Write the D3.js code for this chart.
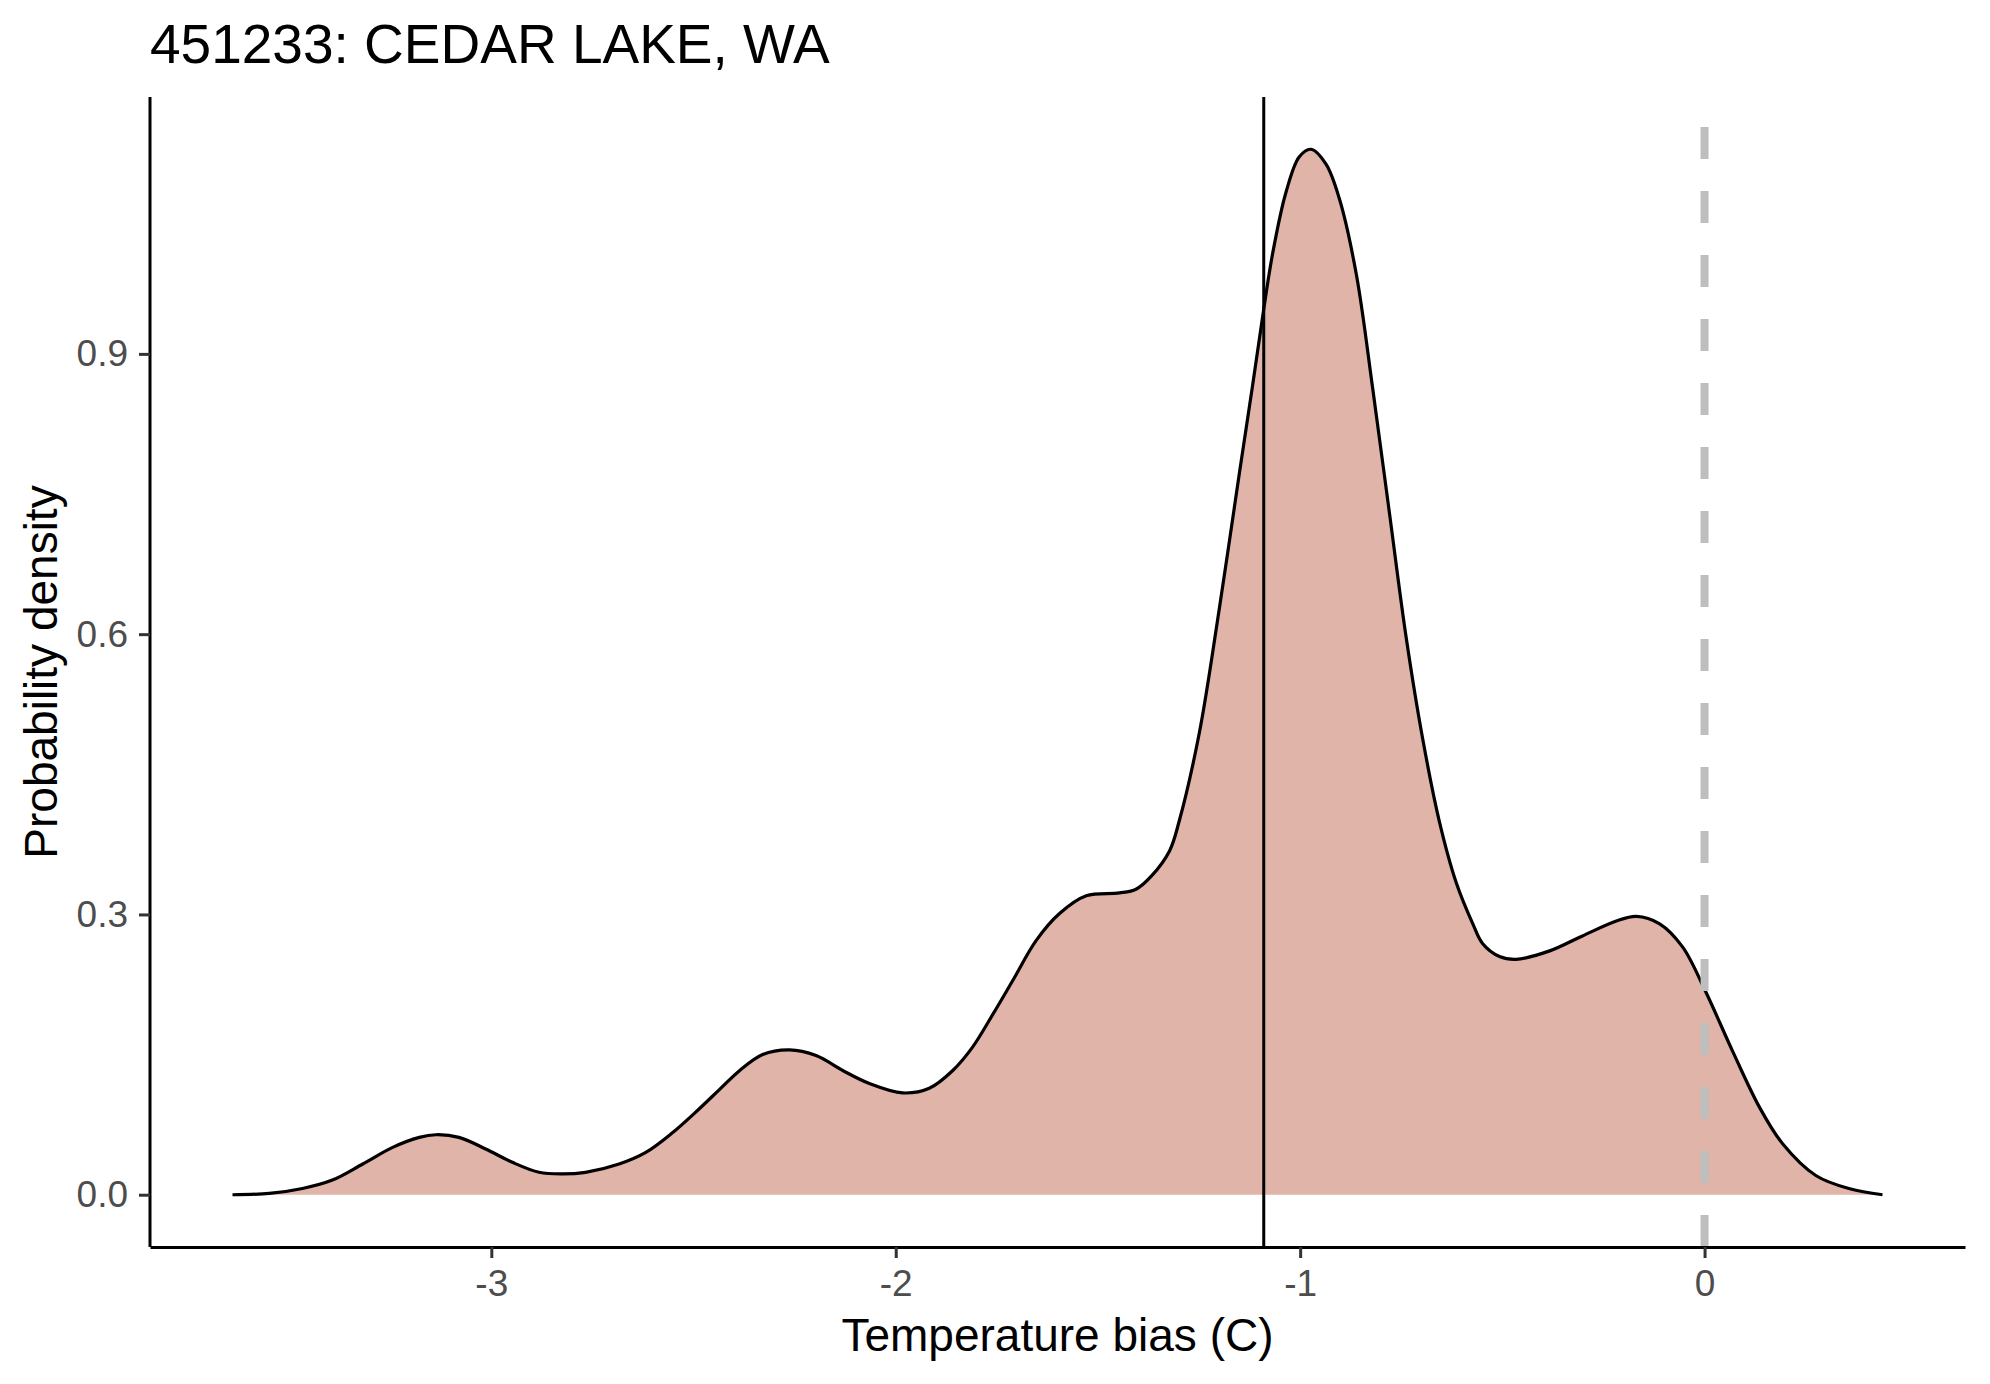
<!DOCTYPE html>
<html>
<head>
<meta charset="utf-8">
<script src="https://cdn.jsdelivr.net/npm/d3@7"></script>
<style>
html, body { margin: 0; padding: 0; background: #ffffff; }
svg { display: block; font-family: "Liberation Sans", Arial, sans-serif; }
</style>
</head>
<body>
<svg id="chart" width="1990" height="1384"></svg>
<script>
// ---- Data ----
const titleText = "451233: CEDAR LAKE, WA";
const xLabel = "Temperature bias (C)";
const yLabel = "Probability density";

const biasX = [
  -3.640, -3.549, -3.467, -3.393, -3.318, -3.244, -3.178, -3.137, -3.080, -3.014,
  -2.948, -2.882, -2.824, -2.767, -2.684, -2.618, -2.553, -2.487, -2.436, -2.387,
  -2.329, -2.263, -2.197, -2.131, -2.065, -1.983, -1.917, -1.859, -1.810, -1.760,
  -1.711, -1.653, -1.595, -1.529, -1.447, -1.406, -1.368, -1.323, -1.299, -1.249,
  -1.200, -1.150, -1.117, -1.091, -1.068, -1.035, -1.002, -0.973, -0.936, -0.903,
  -0.861, -0.820, -0.779, -0.738, -0.697, -0.656, -0.614, -0.573, -0.549, -0.507,
  -0.466, -0.383, -0.302, -0.218, -0.169, -0.111, -0.054, 0.002, 0.069, 0.136,
  0.193, 0.276, 0.359, 0.440
];
const densityY = [
  0.000, 0.0014, 0.0067, 0.0157, 0.0329, 0.0507, 0.0614, 0.0642, 0.0614, 0.0490,
  0.0347, 0.0240, 0.0223, 0.0240, 0.0329, 0.0453, 0.0660, 0.0915, 0.1125, 0.1325,
  0.150, 0.155, 0.149, 0.133, 0.119, 0.109, 0.114, 0.133, 0.158, 0.193,
  0.229, 0.272, 0.301, 0.320, 0.323, 0.327, 0.341, 0.368, 0.400, 0.495,
  0.627, 0.773, 0.868, 0.945, 1.0075, 1.073, 1.111, 1.119, 1.103, 1.066,
  0.985, 0.861, 0.729, 0.597, 0.488, 0.400, 0.334, 0.290, 0.269, 0.255,
  0.252, 0.261, 0.277, 0.293, 0.298, 0.290, 0.265, 0.218, 0.154, 0.0935,
  0.0546, 0.0203, 0.0064, 0.000
];
const meanBias = -1.09;
const zeroBias = 0;
const xTicks = [-3, -2, -1, 0];
const yTicks = [0.0, 0.3, 0.6, 0.9];

// ---- Layout ----
const panel = { left: 150, right: 1965, top: 97, bottom: 1247 };
const fillColor = "#E0B4A9";

const points = biasX.map((x, i) => ({ x: x, y: densityY[i] }));

const xExt = d3.extent(biasX);
const xPad = (xExt[1] - xExt[0]) * 0.05;
const yMax = d3.max(densityY);
const yPad = yMax * 0.05;

const x = d3.scaleLinear()
  .domain([xExt[0] - xPad, xExt[1] + xPad])
  .range([panel.left, panel.right]);
const y = d3.scaleLinear()
  .domain([0 - yPad, yMax + yPad])
  .range([panel.bottom, panel.top]);

const svg = d3.select("#chart");
svg.append("rect").attr("width", 1990).attr("height", 1384).attr("fill", "#ffffff");

// density area
const curve = d3.curveCatmullRom.alpha(0.5);
svg.append("path")
  .datum(points)
  .attr("fill", fillColor)
  .attr("d", d3.area().x(d => x(d.x)).y0(y(0)).y1(d => y(d.y)).curve(curve));

svg.append("path")
  .datum(points)
  .attr("fill", "none")
  .attr("stroke", "#000000")
  .attr("stroke-width", 3.2)
  .attr("stroke-linejoin", "round")
  .attr("d", d3.line().x(d => x(d.x)).y(d => y(d.y)).curve(curve));

// mean line
svg.append("line")
  .attr("x1", x(meanBias)).attr("x2", x(meanBias))
  .attr("y1", panel.bottom).attr("y2", panel.top)
  .attr("stroke", "#000000").attr("stroke-width", 3);

// zero reference (dashed)
svg.append("line")
  .attr("x1", x(zeroBias)).attr("x2", x(zeroBias))
  .attr("y1", panel.bottom).attr("y2", panel.top)
  .attr("stroke", "#BEBEBE").attr("stroke-width", 8)
  .attr("stroke-dasharray", "32,32");

// axes
const xAxis = d3.axisBottom(x).tickValues(xTicks).tickFormat(d => String(d))
  .tickSizeInner(11).tickSizeOuter(0).tickPadding(12);
const yAxis = d3.axisLeft(y).tickValues(yTicks).tickFormat(d => d.toFixed(1))
  .tickSizeInner(11).tickSizeOuter(0).tickPadding(11);

const gx = svg.append("g").attr("transform", `translate(0,${panel.bottom})`).call(xAxis);
const gy = svg.append("g").attr("transform", `translate(${panel.left},0)`).call(yAxis);

[gx, gy].forEach(g => {
  g.select(".domain").attr("stroke", "#000000").attr("stroke-width", 3);
  g.selectAll(".tick line").attr("stroke", "#333333").attr("stroke-width", 3);
  g.selectAll(".tick text")
    .attr("fill", "#4D4D4D")
    .style("font-size", "37px")
    .style("font-family", '"Liberation Sans", Arial, sans-serif');
});
gy.select(".domain").attr("d", `M0,${panel.bottom}V${panel.top}`);

// titles
svg.append("text")
  .attr("x", panel.left).attr("y", 63)
  .attr("fill", "#000000")
  .style("font-size", "55px")
  .text(titleText);

svg.append("text")
  .attr("x", (panel.left + panel.right) / 2).attr("y", 1351)
  .attr("text-anchor", "middle")
  .attr("fill", "#000000")
  .style("font-size", "46px")
  .text(xLabel);

svg.append("text")
  .attr("transform", `translate(57,${(panel.top + panel.bottom) / 2}) rotate(-90)`)
  .attr("text-anchor", "middle")
  .attr("fill", "#000000")
  .style("font-size", "46px")
  .text(yLabel);
</script>
</body>
</html>
